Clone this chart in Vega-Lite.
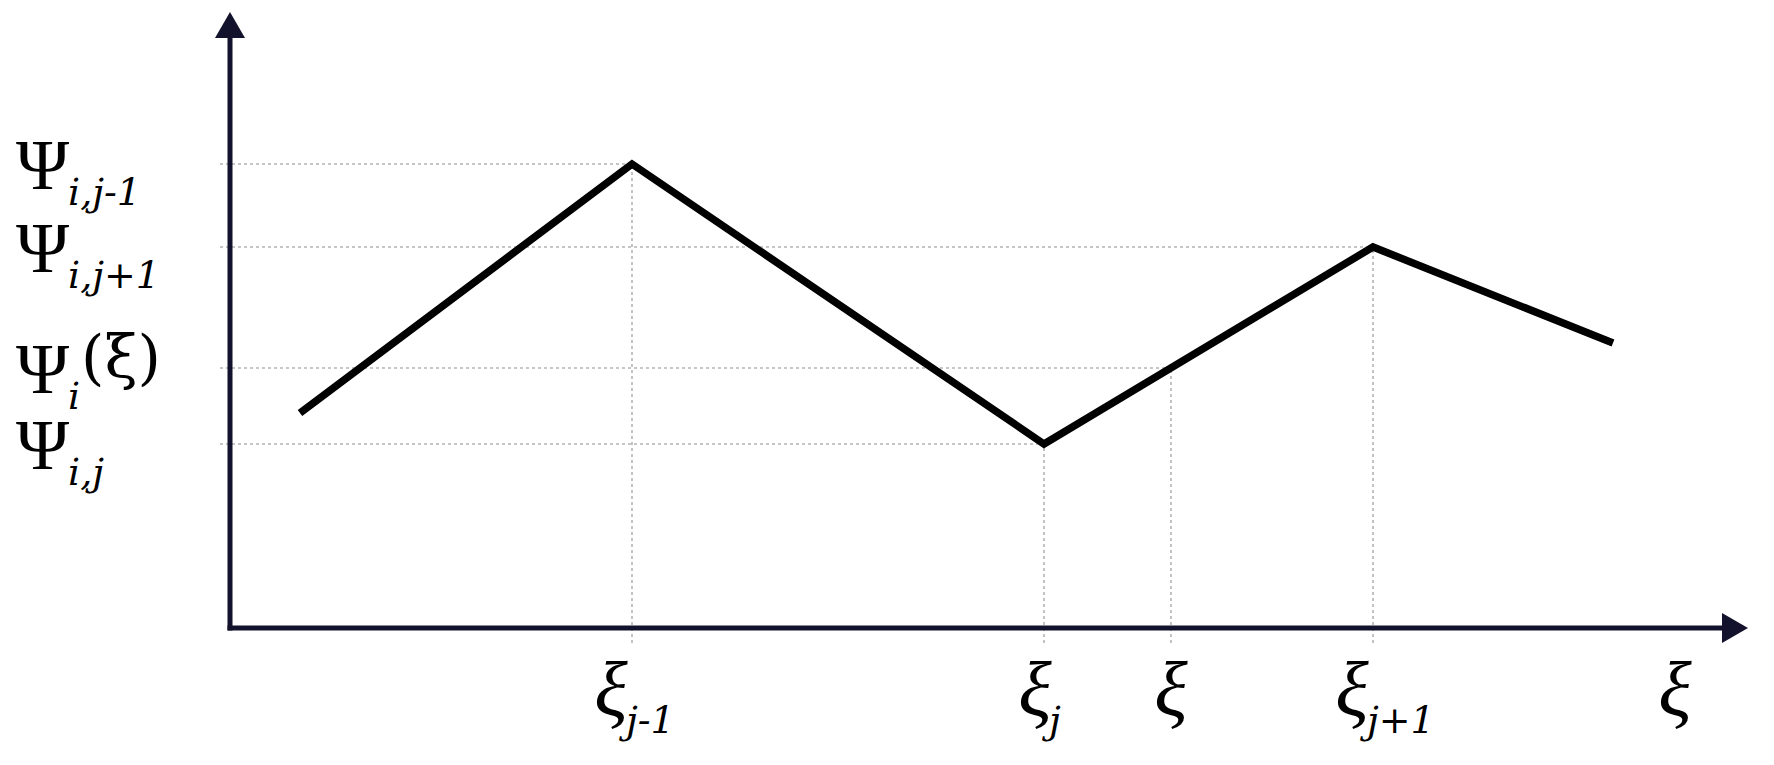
{
  "$schema": "https://vega.github.io/schema/vega-lite/v6.json",
  "width": 1774,
  "height": 765,
  "padding": 0,
  "autosize": {"type": "none"},
  "background": "white",
  "config": {"view": {"stroke": null}},
  "datasets": {
    "line": [
      {"u": 0.70, "v": 2.15},
      {"u": 4.02, "v": 4.64},
      {"u": 8.14, "v": 1.84},
      {"u": 11.43, "v": 3.81},
      {"u": 13.83, "v": 2.85}
    ],
    "levels": [
      {"u": 4.02, "v": 4.64, "u0": -0.1, "v0": -0.15},
      {"u": 11.43, "v": 3.81, "u0": -0.1, "v0": -0.15},
      {"u": 9.41, "v": 2.60, "u0": -0.1, "v0": -0.15},
      {"u": 8.14, "v": 1.84, "u0": -0.1, "v0": -0.15}
    ],
    "frame": [
      {"axis": "x", "u0": 0, "u1": 15.05, "v0": 0, "v1": 0},
      {"axis": "y", "u0": 0, "u1": 0, "v0": 0, "v1": 6.03}
    ],
    "ylabels": [
      {"sub": "i,j-1", "u": 0, "v": 4.64},
      {"sub": "i,j+1", "u": 0, "v": 3.81},
      {"sub": "i", "u": 0, "v": 2.60, "extra": "(ξ)"},
      {"sub": "i,j", "u": 0, "v": 1.84}
    ],
    "xlabels": [
      {"sub": "j-1", "u": 4.02, "v": 0},
      {"sub": "j", "u": 8.14, "v": 0},
      {"sub": "", "u": 9.41, "v": 0},
      {"sub": "j+1", "u": 11.43, "v": 0},
      {"sub": "", "u": 14.45, "v": 0}
    ]
  },
  "encoding": {
    "x": {"type": "quantitative", "scale": {"domain": [-2.30, 15.44], "nice": false, "zero": false}, "axis": null},
    "y": {"type": "quantitative", "scale": {"domain": [-1.37, 6.28], "nice": false, "zero": false}, "axis": null}
  },
  "layer": [
    {
      "data": {"name": "levels"},
      "mark": {"type": "rule", "color": "#b4b4b4", "strokeWidth": 1.6, "strokeDash": [3, 3]},
      "encoding": {
        "x": {"field": "u0", "type": "quantitative"},
        "x2": {"field": "u"},
        "y": {"field": "v", "type": "quantitative"}
      }
    },
    {
      "data": {"name": "levels"},
      "mark": {"type": "rule", "color": "#b4b4b4", "strokeWidth": 1.6, "strokeDash": [3, 3]},
      "encoding": {
        "x": {"field": "u", "type": "quantitative"},
        "y": {"field": "v0", "type": "quantitative"},
        "y2": {"field": "v"}
      }
    },
    {
      "data": {"name": "frame"},
      "mark": {"type": "rule", "color": "#12122c", "strokeWidth": 5, "strokeCap": "square"},
      "encoding": {
        "x": {"field": "u0", "type": "quantitative"},
        "x2": {"field": "u1"},
        "y": {"field": "v0", "type": "quantitative"},
        "y2": {"field": "v1"}
      }
    },
    {
      "data": {"name": "frame"},
      "transform": [{"filter": "datum.axis == 'y'"}],
      "mark": {"type": "point", "shape": "triangle-up", "size": 900, "filled": true, "opacity": 1, "color": "#12122c"},
      "encoding": {
        "x": {"field": "u1", "type": "quantitative"},
        "y": {"field": "v1", "type": "quantitative"}
      }
    },
    {
      "data": {"name": "frame"},
      "transform": [{"filter": "datum.axis == 'x'"}],
      "mark": {"type": "point", "shape": "triangle-right", "size": 900, "filled": true, "opacity": 1, "color": "#12122c"},
      "encoding": {
        "x": {"field": "u1", "type": "quantitative"},
        "y": {"field": "v1", "type": "quantitative"}
      }
    },
    {
      "data": {"name": "line"},
      "mark": {"type": "line", "color": "black", "strokeWidth": 7.5, "strokeJoin": "miter", "strokeCap": "butt"},
      "encoding": {
        "x": {"field": "u", "type": "quantitative"},
        "y": {"field": "v", "type": "quantitative"}
      }
    },
    {
      "data": {"name": "ylabels"},
      "mark": {"type": "text", "text": "Ψ", "font": "Liberation Serif", "fontSize": 72, "align": "right", "baseline": "alphabetic", "dx": -161, "dy": 25, "color": "black"},
      "encoding": {
        "x": {"field": "u", "type": "quantitative"},
        "y": {"field": "v", "type": "quantitative"}
      }
    },
    {
      "data": {"name": "ylabels"},
      "mark": {"type": "text", "font": "DejaVu Serif", "fontStyle": "italic", "fontSize": 38, "align": "left", "baseline": "alphabetic", "dx": -162, "dy": 41, "color": "black"},
      "encoding": {
        "x": {"field": "u", "type": "quantitative"},
        "y": {"field": "v", "type": "quantitative"},
        "text": {"field": "sub", "type": "nominal"}
      }
    },
    {
      "data": {"name": "ylabels"},
      "transform": [{"filter": "isValid(datum.extra)"}],
      "mark": {"type": "text", "font": "DejaVu Serif", "fontSize": 60, "align": "left", "baseline": "alphabetic", "dx": -149, "dy": 10, "color": "black"},
      "encoding": {
        "x": {"field": "u", "type": "quantitative"},
        "y": {"field": "v", "type": "quantitative"},
        "text": {"field": "extra", "type": "nominal"}
      }
    },
    {
      "data": {"name": "xlabels"},
      "transform": [{"filter": "length(datum.sub) > 1"}],
      "mark": {"type": "text", "text": "ξ", "font": "Liberation Serif", "fontStyle": "italic", "fontSize": 78, "align": "center", "baseline": "alphabetic", "dx": -21, "dy": 88, "color": "black"},
      "encoding": {
        "x": {"field": "u", "type": "quantitative"},
        "y": {"field": "v", "type": "quantitative"}
      }
    },
    {
      "data": {"name": "xlabels"},
      "transform": [{"filter": "datum.sub == 'j'"}],
      "mark": {"type": "text", "text": "ξ", "font": "Liberation Serif", "fontStyle": "italic", "fontSize": 78, "align": "center", "baseline": "alphabetic", "dx": -9, "dy": 88, "color": "black"},
      "encoding": {
        "x": {"field": "u", "type": "quantitative"},
        "y": {"field": "v", "type": "quantitative"}
      }
    },
    {
      "data": {"name": "xlabels"},
      "transform": [{"filter": "datum.sub == ''"}],
      "mark": {"type": "text", "text": "ξ", "font": "Liberation Serif", "fontStyle": "italic", "fontSize": 78, "align": "center", "baseline": "alphabetic", "dx": 0, "dy": 88, "color": "black"},
      "encoding": {
        "x": {"field": "u", "type": "quantitative"},
        "y": {"field": "v", "type": "quantitative"}
      }
    },
    {
      "data": {"name": "xlabels"},
      "transform": [{"filter": "length(datum.sub) > 1"}],
      "mark": {"type": "text", "font": "DejaVu Serif", "fontStyle": "italic", "fontSize": 38, "align": "left", "baseline": "alphabetic", "dx": -6, "dy": 105, "color": "black"},
      "encoding": {
        "x": {"field": "u", "type": "quantitative"},
        "y": {"field": "v", "type": "quantitative"},
        "text": {"field": "sub", "type": "nominal"}
      }
    },
    {
      "data": {"name": "xlabels"},
      "transform": [{"filter": "datum.sub == 'j'"}],
      "mark": {"type": "text", "font": "DejaVu Serif", "fontStyle": "italic", "fontSize": 38, "align": "left", "baseline": "alphabetic", "dx": 5, "dy": 105, "color": "black"},
      "encoding": {
        "x": {"field": "u", "type": "quantitative"},
        "y": {"field": "v", "type": "quantitative"},
        "text": {"field": "sub", "type": "nominal"}
      }
    }
  ]
}
